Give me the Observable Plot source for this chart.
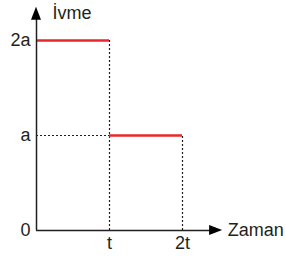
<!DOCTYPE html>
<html>
<head>
<meta charset="utf-8">
<script src="https://cdn.jsdelivr.net/npm/d3@7"></script>
<script src="https://cdn.jsdelivr.net/npm/@observablehq/plot@0.6"></script>
<style>
  html, body { margin: 0; padding: 0; background: #fff; }
</style>
</head>
<body>
<div id="chart"></div>
<script>
// Data
const stepStart = [0, 1];      // in units of t
const stepEnd = [1, 2];
const stepValue = [2, 1];      // in units of a
const yTicks = [0, 1, 2];
const yTickLabels = ["0", "a", "2a"];
const xTicks = [1, 2];
const xTickLabels = ["t", "2t"];
const xAxisMax = 2.55;
const yAxisMax = 2.35;
const xTitle = "Zaman";
const yTitle = "İvme";

const ink = "#231f20";
const red = "#e8262b";
const font = "Liberation Sans, Arial, Helvetica, sans-serif";

const xRange = [36, 182], yRange = [230, 40];
const xDomain = [0, 2], yDomain = [0, 2];
const pxX = (xDomain[1] - xDomain[0]) / (xRange[1] - xRange[0]);   // data units per pixel
const pxY = (yDomain[1] - yDomain[0]) / (yRange[0] - yRange[1]);

const steps = stepStart.map((s, i) => ({x1: s, x2: stepEnd[i], y: stepValue[i]}));
const vGuides = steps.map(d => ({x: d.x2, y1: 0, y2: d.y}));
const hGuides = steps.slice(1).map(d => ({y: d.y, x1: 0, x2: d.x1}));

// arrowheads (filled triangles) derived from the axis extents
const headLen = 13, headHalf = 5;
const upHead = [
  {x: -headHalf * pxX, y1: yAxisMax - headLen * pxY, y2: yAxisMax - headLen * pxY},
  {x: 0, y1: yAxisMax - headLen * pxY, y2: yAxisMax},
  {x: headHalf * pxX, y1: yAxisMax - headLen * pxY, y2: yAxisMax - headLen * pxY}
];
const rightHead = [
  {y: -headHalf * pxY, x1: xAxisMax - headLen * pxX, x2: xAxisMax - headLen * pxX},
  {y: 0, x1: xAxisMax - headLen * pxX, x2: xAxisMax},
  {y: headHalf * pxY, x1: xAxisMax - headLen * pxX, x2: xAxisMax - headLen * pxX}
];

const chart = Plot.plot({
  width: 285,
  height: 256,
  margin: 0,
  x: {domain: xDomain, range: xRange, axis: null},
  y: {domain: yDomain, range: yRange, axis: null},
  style: {fontFamily: font},
  marks: [
    Plot.ruleX(vGuides, {x: "x", y1: "y1", y2: "y2", stroke: ink, strokeWidth: 1.2, strokeDasharray: "2,2"}),
    Plot.ruleY(hGuides, {y: "y", x1: "x1", x2: "x2", stroke: ink, strokeWidth: 1.2, strokeDasharray: "2,2"}),
    Plot.ruleY(steps, {y: "y", x1: "x1", x2: "x2", stroke: red, strokeWidth: 2.6}),
    Plot.ruleX([0], {y1: 0, y2: yAxisMax - 6 * pxY, stroke: ink, strokeWidth: 1.5}),
    Plot.ruleY([0], {x1: 0, x2: xAxisMax - 6 * pxX, stroke: ink, strokeWidth: 1.5}),
    Plot.areaY(upHead, {x: "x", y1: "y1", y2: "y2", fill: "black", curve: "linear"}),
    Plot.areaX(rightHead, {y: "y", x1: "x1", x2: "x2", fill: "black", curve: "linear"}),
    Plot.text(yTicks, {x: 0, y: d => d, text: (d, i) => yTickLabels[i], dx: -6, textAnchor: "end", fontSize: 18, fill: ink}),
    Plot.text(xTicks, {x: d => d, y: 0, text: (d, i) => xTickLabels[i], dy: 13, fontSize: 18, fill: ink}),
    Plot.text([xTitle], {x: xAxisMax, y: 0, text: d => d, dx: 5, textAnchor: "start", fontSize: 18, fill: ink}),
    Plot.text([yTitle], {x: 0, y: yAxisMax, text: d => d, dx: 16, dy: 6, textAnchor: "start", fontSize: 18, fill: ink})
  ]
});
document.getElementById("chart").append(chart);
</script>
</body>
</html>
